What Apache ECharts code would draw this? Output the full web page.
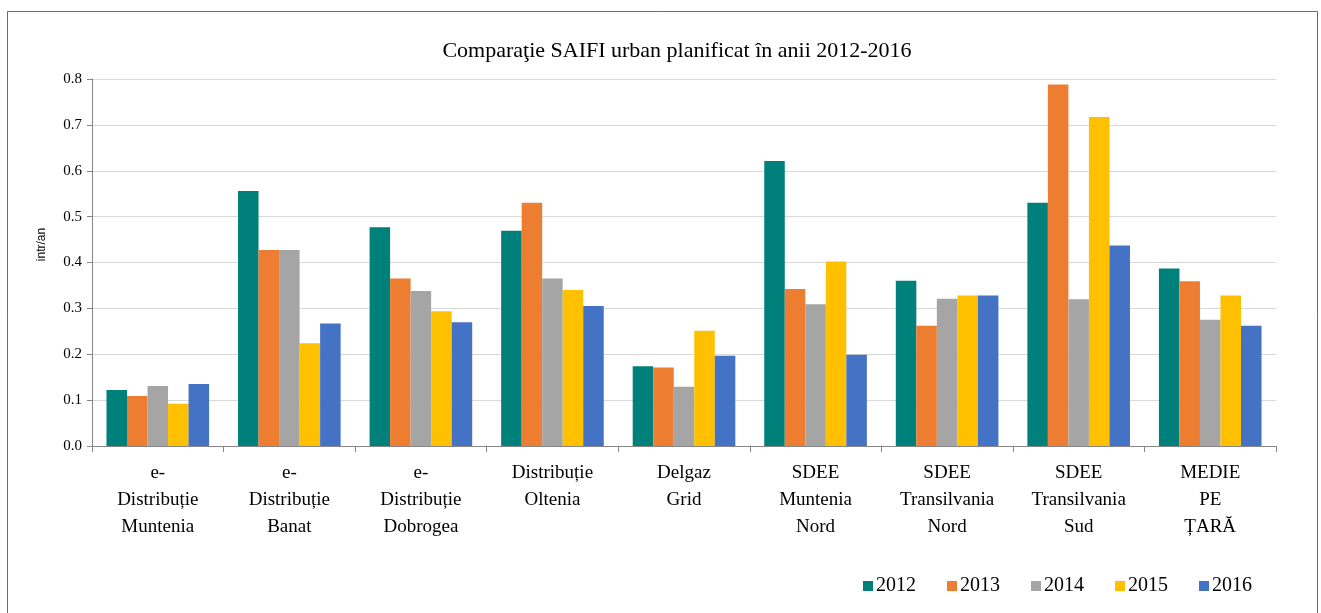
<!DOCTYPE html>
<html>
<head>
<meta charset="utf-8">
<script src="https://cdn.jsdelivr.net/npm/echarts@6/dist/echarts.min.js"></script>
<style>
  html, body { margin: 0; padding: 0; background: #fff; }
  #main { width: 1321px; height: 613px; }
</style>
</head>
<body>
<div id="main"></div>
<script>
// date
const categories = [
  'e-\nDistribuție\nMuntenia',
  'e-\nDistribuție\nBanat',
  'e-\nDistribuție\nDobrogea',
  'Distribuție\nOltenia',
  'Delgaz\nGrid',
  'SDEE\nMuntenia\nNord',
  'SDEE\nTransilvania\nNord',
  'SDEE\nTransilvania\nSud',
  'MEDIE\nPE\nȚARĂ'
];
const years = ['2012', '2013', '2014', '2015', '2016'];
const colors = ['#00807A', '#ED7D31', '#A5A5A5', '#FFC000', '#4472C4'];

const v2012 = [0.122, 0.556, 0.477, 0.469, 0.174, 0.621, 0.360, 0.530, 0.387];
const v2013 = [0.109, 0.427, 0.365, 0.530, 0.171, 0.342, 0.262, 0.788, 0.359];
const v2014 = [0.131, 0.427, 0.338, 0.365, 0.129, 0.309, 0.321, 0.320, 0.275];
const v2015 = [0.092, 0.224, 0.294, 0.340, 0.251, 0.402, 0.328, 0.717, 0.328];
const v2016 = [0.135, 0.267, 0.270, 0.305, 0.197, 0.199, 0.328, 0.437, 0.262];
const values = [v2012, v2013, v2014, v2015, v2016];

const serif = '"Liberation Serif", "DejaVu Serif", serif';

let chart = echarts.init(document.getElementById('main'));

let series = years.map(function (y, i) {
  return {
    name: y,
    type: 'bar',
    data: values[i],
    barGap: '0%',
    barCategoryGap: '22%',
    itemStyle: { color: colors[i] }
  };
});

let option = {
  backgroundColor: '#fff',
  animation: false,
  title: {
    text: 'Comparaţie SAIFI urban planificat în anii 2012-2016',
    left: 672,
    textAlign: 'center',
    top: 35,
    textStyle: {
      fontFamily: serif,
      fontWeight: 'normal',
      fontSize: 22,
      color: '#000'
    }
  },
  legend: {
    data: years,
    right: 64,
    top: 571,
    itemWidth: 10,
    itemHeight: 10,
    itemGap: 31,
    icon: 'rect',
    textStyle: { fontFamily: serif, fontSize: 20, color: '#000', padding: [0, 0, 0, -2] }
  },
  graphic: [{
    type: 'rect',
    shape: { x: 7.5, y: 11.5, width: 1310, height: 620 },
    style: { fill: 'none', stroke: '#6b6b6b', lineWidth: 1 },
    silent: true
  }],
  grid: {
    left: 92,
    right: 45,
    top: 79,
    bottom: 167
  },
  xAxis: {
    type: 'category',
    data: categories,
    axisLine: { lineStyle: { color: '#868686', width: 1 } },
    axisTick: { show: true, length: 6, lineStyle: { color: '#868686' } },
    axisLabel: {
      interval: 0,
      margin: 14,
      fontFamily: serif,
      fontSize: 19,
      lineHeight: 27,
      color: '#000'
    }
  },
  yAxis: {
    type: 'value',
    min: 0,
    max: 0.8,
    interval: 0.1,
    name: 'intr/an',
    nameLocation: 'middle',
    nameRotate: 90,
    nameGap: 44,
    nameTextStyle: {
      fontFamily: '"Liberation Sans", Arial, sans-serif',
      fontSize: 12,
      color: '#000',
      padding: [0, 0, 0, 36]
    },
    axisLine: { show: true, lineStyle: { color: '#868686' } },
    axisTick: { show: true, length: 5, lineStyle: { color: '#868686' } },
    axisLabel: {
      margin: 10,
      fontFamily: serif,
      fontSize: 15,
      color: '#000',
      formatter: function (v) { return v.toFixed(1); }
    },
    splitLine: { lineStyle: { color: '#d9d9d9', width: 1 } }
  },
  series: series
};

chart.setOption(option, true);
window.addEventListener('resize', function () {
  chart.resize();
});
</script>
</body>
</html>
